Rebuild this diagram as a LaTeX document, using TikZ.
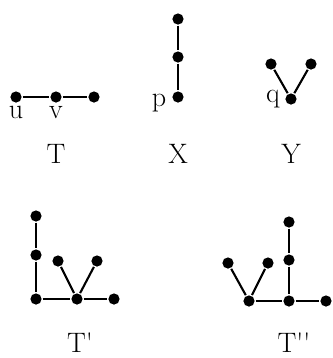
\documentclass[tikz,border=0pt]{standalone}
\begin{document}
\begin{tikzpicture}[x=0.025cm, y=-0.025cm, line width=1.5pt,
	dot/.style={fill=black, circle, inner sep=0pt, minimum size=0.28cm},
	lbl/.style={font=\fontsize{20}{24}\selectfont, anchor=base, inner sep=0pt}]
	
	\useasboundingbox (0,0) rectangle (332,358);
	
	% ---- Tree T ----
	\foreach \name/\x/\y in {u/16/97, v/56/97, tA/94/97}
	{
		\node[dot] (\name) at (\x,\y) {};
	}
	\draw (u) -- (v) -- (tA);
	\node[lbl] (lu) at (16,118) {u};
	\node[lbl] (lv) at (56,118) {v};
	\node[lbl] (lT) at (56,163) {T};
	
	% ---- Tree X ----
	\foreach \name/\x/\y in {xA/178/19, xB/178/57, p/178/97}
	{
		\node[dot] (\name) at (\x,\y) {};
	}
	\draw (xA) -- (xB) -- (p);
	\node[lbl] (lp) at (159,106) {p};
	\node[lbl] (lX) at (178,163) {X};
	
	% ---- Tree Y ----
	\foreach \name/\x/\y in {yA/271/64, yB/311/64, q/291/99}
	{
		\node[dot] (\name) at (\x,\y) {};
	}
	\draw (yA) -- (q) -- (yB);
	\node[lbl] (lq) at (273,102) {q};
	\node[lbl] (lY) at (291,163) {Y};
	
	% ---- Tree T' ----
	\foreach \name/\x/\y in {aA/36/216, aB/36/255, aC/36/299, aD/77/299, aE/114/299, aF/58/261, aG/97/261}
	{
		\node[dot] (\name) at (\x,\y) {};
	}
	\draw (aA) -- (aB) -- (aC) -- (aD) -- (aE);
	\draw (aF) -- (aD) -- (aG);
	\node[lbl] (lTa) at (80,352) {T\textquotesingle};
	
	% ---- Tree T'' ----
	\foreach \name/\x/\y in {bA/289/222, bB/289/260, bC/289/301, bD/249/301, bE/326/301, bF/228/263, bG/268/263}
	{
		\node[dot] (\name) at (\x,\y) {};
	}
	\draw (bA) -- (bB) -- (bC) -- (bE);
	\draw (bD) -- (bC);
	\draw (bF) -- (bD) -- (bG);
	\node[lbl] (lTb) at (294,352) {T\textquotesingle\textquotesingle};
	
\end{tikzpicture}
\end{document}
